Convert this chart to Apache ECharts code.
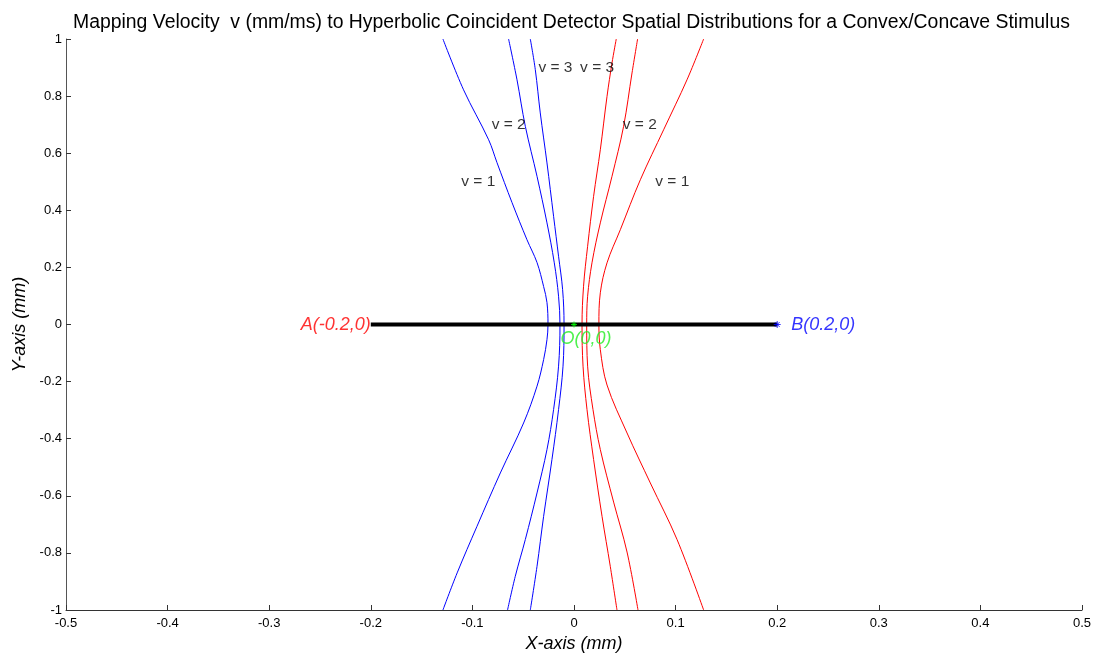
<!DOCTYPE html>
<html lang="en">
<head>
  <meta charset="UTF-8">
  <title>Hyperbolic Coincident Detector Spatial Distributions</title>
  <script src="https://cdn.jsdelivr.net/npm/echarts@6/dist/echarts.min.js"></script>
  <style>
    html, body {
      margin: 0;
      padding: 0;
      background: #ffffff;
    }
    #chart {
      width: 1095px;
      height: 654px;
    }
  </style>
</head>
<body>
  <div id="chart"></div>

  <script>
    // Blue curves (left branches), points as [x, y]
    const blueV1 = [
      [-0.129, 1.0], [-0.1087, 0.822], [-0.084, 0.647], [-0.0758, 0.567], [-0.061, 0.427],
      [-0.0463, 0.297], [-0.0364, 0.217], [-0.0299, 0.133], [-0.0266, 0.077], [-0.0256, 0.0],
      [-0.0266, -0.053], [-0.0299, -0.123], [-0.0364, -0.216], [-0.0496, -0.345],
      [-0.0725, -0.52], [-0.0955, -0.707], [-0.115, -0.87], [-0.129, -1.0]
    ];
    const blueV2 = [
      [-0.0644, 1.0], [-0.0561, 0.857], [-0.0479, 0.694], [-0.0364, 0.519], [-0.0266, 0.356],
      [-0.0194, 0.216], [-0.0152, 0.099], [-0.0138, 0.0], [-0.0152, -0.146], [-0.0201, -0.298],
      [-0.0266, -0.438], [-0.0364, -0.59], [-0.0479, -0.753], [-0.0578, -0.882], [-0.0654, -1.0]
    ];
    const blueV3 = [
      [-0.043, 1.0], [-0.0381, 0.893], [-0.0332, 0.741], [-0.0266, 0.566], [-0.0201, 0.379],
      [-0.0152, 0.239], [-0.0112, 0.122], [-0.0098, 0.0], [-0.0108, -0.146], [-0.0152, -0.298],
      [-0.0217, -0.473], [-0.0299, -0.672], [-0.0364, -0.847], [-0.043, -1.0]
    ];

    // Red curves (right branches)
    const redV3 = [
      [0.0416, 1.0], [0.0374, 0.916], [0.0325, 0.799], [0.0259, 0.612], [0.0193, 0.449],
      [0.0134, 0.274], [0.0094, 0.134], [0.0079, 0.0], [0.0089, -0.146], [0.0128, -0.298],
      [0.0193, -0.473], [0.0276, -0.672], [0.0357, -0.847], [0.0423, -1.0]
    ];
    const redV2 = [
      [0.0626, 1.0], [0.0571, 0.881], [0.0488, 0.694], [0.0374, 0.519], [0.0259, 0.356],
      [0.0177, 0.216], [0.0134, 0.099], [0.0125, 0.0], [0.0134, -0.146], [0.0187, -0.298],
      [0.0259, -0.438], [0.039, -0.622], [0.0522, -0.797], [0.063, -1.0]
    ];
    const redV1 = [
      [0.1276, 1.0], [0.1112, 0.857], [0.0882, 0.682], [0.0653, 0.507], [0.0456, 0.332],
      [0.0325, 0.216], [0.0259, 0.111], [0.0245, 0.0], [0.0259, -0.088], [0.0325, -0.212],
      [0.0522, -0.38], [0.0751, -0.555], [0.1014, -0.753], [0.1276, -1.0]
    ];

    // Stimulus segment A-B and named points
    const segmentAB = [[-0.2, 0], [0.2, 0]];
    const pointA = [-0.2, 0];
    const pointB = [0.2, 0];
    const pointO = [0, 0];

    // Velocity labels: [x, y, text]
    const velocityLabels = [
      [-0.035, 0.9, 'v = 3'], [0.006, 0.9, 'v = 3'],
      [-0.081, 0.7, 'v = 2'], [0.048, 0.7, 'v = 2'],
      [-0.111, 0.5, 'v = 1'], [0.08, 0.5, 'v = 1']
    ];

    const xTickMin = -0.5, xTickMax = 0.5, xTickStep = 0.1;
    const yTickMin = -1, yTickMax = 1, yTickStep = 0.2;

    const font = "'Liberation Sans', Arial, sans-serif";
    const star = 'path://M0,-5L0,5M-5,0L5,0M-3.5,-3.5L3.5,3.5M-3.5,3.5L3.5,-3.5';
    const chart = echarts.init(document.getElementById('chart'));

    function curve(data, color) {
      return {
        type: 'line',
        data: data,
        showSymbol: false,
        symbol: 'none',
        smooth: 0.35,
        lineStyle: { color: color, width: 1 },
        silent: true
      };
    }

    const option = {
      animation: false,
      backgroundColor: '#ffffff',
      title: {
        text: 'Mapping Velocity  v (mm/ms) to Hyperbolic Coincident Detector Spatial Distributions for a Convex/Concave Stimulus',
        left: 68,
        top: 8,
        textStyle: { fontFamily: font, fontSize: 19.4, fontWeight: 'normal', color: '#000' }
      },
      grid: { left: 66, right: 13, top: 39, bottom: 44, outerBoundsMode: 'none' },
      xAxis: {
        type: 'value',
        min: xTickMin,
        max: xTickMax,
        interval: xTickStep,
        name: 'X-axis (mm)',
        nameLocation: 'middle',
        nameGap: 24,
        nameTextStyle: { fontFamily: font, fontSize: 18, fontStyle: 'italic', color: '#000' },
        axisLine: { onZero: false, lineStyle: { color: '#333', width: 1 } },
        axisTick: { inside: true, length: 5, lineStyle: { color: '#333' } },
        axisLabel: { fontFamily: font, fontSize: 13, color: '#000', margin: 7 },
        splitLine: { show: false }
      },
      yAxis: {
        type: 'value',
        min: yTickMin,
        max: yTickMax,
        interval: yTickStep,
        name: 'Y-axis (mm)',
        nameLocation: 'middle',
        nameGap: 34,
        nameTextStyle: { fontFamily: font, fontSize: 18, fontStyle: 'italic', color: '#000' },
        axisLine: { onZero: false, lineStyle: { color: '#555', width: 1 } },
        axisTick: { inside: true, length: 5, lineStyle: { color: '#333' } },
        axisLabel: { fontFamily: font, fontSize: 13, color: '#000', margin: 4 },
        splitLine: { show: false }
      },
      series: [
        curve(blueV1, '#0000ff'),
        curve(blueV2, '#0000ff'),
        curve(blueV3, '#0000ff'),
        curve(redV3, '#ff0000'),
        curve(redV2, '#ff0000'),
        curve(redV1, '#ff0000'),
        {
          type: 'line',
          data: segmentAB,
          showSymbol: false,
          symbol: 'none',
          lineStyle: { color: '#000', width: 4 },
          z: 3
        },
        {
          type: 'scatter',
          data: [pointA],
          symbolSize: 0,
          label: {
            show: true,
            position: 'left',
            distance: 0,
            formatter: 'A(-0.2,0)',
            fontFamily: font,
            fontSize: 18,
            fontStyle: 'italic',
            color: '#ff0000'
          },
          z: 4
        },
        {
          type: 'scatter',
          data: [pointB],
          symbol: star,
          symbolSize: 7,
          itemStyle: { color: 'none', borderColor: '#0000ff', borderWidth: 1 },
          label: {
            show: true,
            position: 'right',
            distance: 8,
            formatter: 'B(0.2,0)',
            fontFamily: font,
            fontSize: 18,
            fontStyle: 'italic',
            color: '#0000ff'
          },
          z: 4
        },
        {
          type: 'scatter',
          data: [pointO],
          symbol: star,
          symbolSize: 6,
          itemStyle: { color: 'none', borderColor: '#00ff00', borderWidth: 1 },
          label: {
            show: true,
            position: 'right',
            distance: 0,
            offset: [-19, 14],
            formatter: 'O(0,0)',
            fontFamily: font,
            fontSize: 18,
            fontStyle: 'italic',
            color: '#22ee22'
          },
          z: 4
        },
        {
          type: 'scatter',
          data: velocityLabels,
          symbolSize: 0,
          label: {
            show: true,
            position: 'right',
            distance: 0,
            formatter: function (p) { return p.data[2]; },
            fontFamily: font,
            fontSize: 15.5,
            color: '#000'
          },
          z: 5
        }
      ]
    };

    chart.setOption(option);
  </script>
</body>
</html>
